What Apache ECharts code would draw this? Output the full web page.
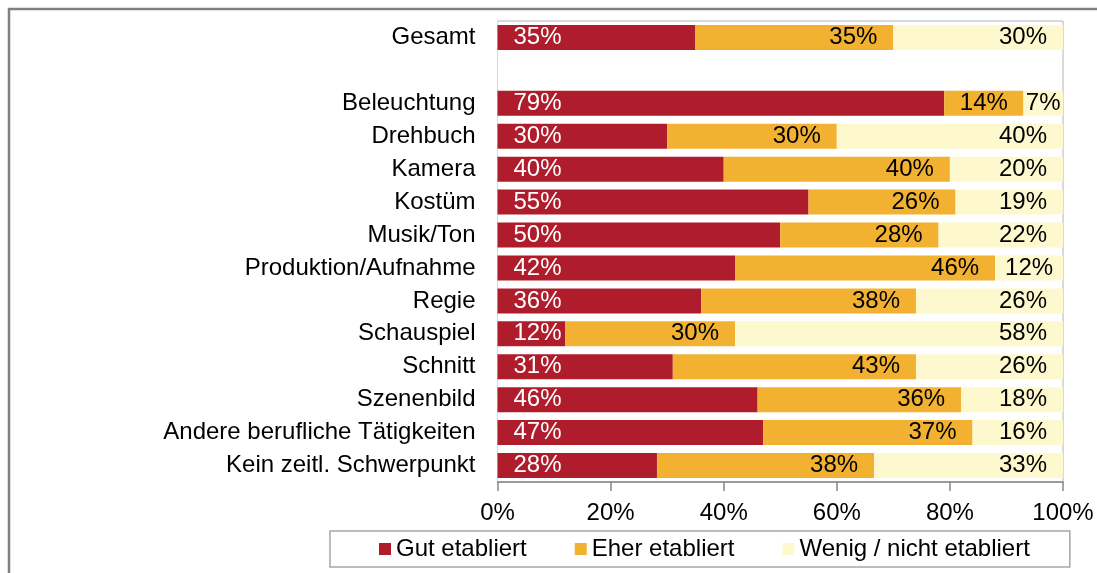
<!DOCTYPE html>
<html>
<head>
    <meta charset="utf-8"/>
    <script src="https://cdn.jsdelivr.net/npm/echarts@6/dist/echarts.min.js"></script>
    <style>
        html, body { margin: 0; padding: 0; background: #fff; }
    </style>
</head>
<body>
<div id="main" style="width: 1097px;height:573px;"></div>
<script type="text/javascript">
    // Kategorien (von oben nach unten), leere Zeile nach "Gesamt"
    var categories = [
        'Gesamt', '', 'Beleuchtung', 'Drehbuch', 'Kamera', 'Kostüm', 'Musik/Ton',
        'Produktion/Aufnahme', 'Regie', 'Schauspiel', 'Schnitt', 'Szenenbild',
        'Andere berufliche Tätigkeiten', 'Kein zeitl. Schwerpunkt'
    ];
    var seriesNames = ['Gut etabliert', 'Eher etabliert', 'Wenig / nicht etabliert'];
    var gut   = [35, '-', 79, 30, 40, 55, 50, 42, 36, 12, 31, 46, 47, 28.2];
    var eher  = [35, '-', 14, 30, 40, 26, 28, 46, 38, 30, 43, 36, 37, 38.4];
    var wenig = [30, '-', 7, 40, 20, 19, 22, 12, 26, 58, 26, 18, 16, 33.4];
    var xTicks = [0, 20, 40, 60, 80, 100];

    var colors = ['#AF1D2D', '#F2B131', '#FEF8CE'];
    var font = "'Liberation Sans', Arial, sans-serif";
    var fs = 24;

    var chartDom = document.getElementById('main');
    var myChart = echarts.init(chartDom);
    var option;

    function pct(p) { return Math.round(p.value) + '%'; }

    // kleine Segmente: Beschriftung zentriert, sonst am Ende
    function items(arr, pos) {
        return arr.map(function (v) {
            if (v === '-') return v;
            return { value: v, label: { position: (pos !== 'insideLeft' && v < 15) ? 'inside' : pos } };
        });
    }

    function makeSeries(i, arr, pos, textColor) {
        return {
            name: seriesNames[i],
            type: 'bar',
            stack: 'total',
            barCategoryGap: '24%',
            itemStyle: { color: colors[i] },
            label: {
                show: true,
                position: pos,
                distance: 16,
                formatter: pct,
                color: textColor,
                fontSize: fs,
                fontFamily: font
            },
            data: items(arr, pos)
        };
    }

    option = {
        animation: false,
        graphic: [{
            type: 'rect',
            shape: { x: 9, y: 9, width: 1300, height: 800 },
            style: { fill: 'none', stroke: '#808080', lineWidth: 2.5 },
            silent: true
        }],
        grid: {
            left: 497.5,
            right: 34,
            top: 21,
            bottom: 91,
            show: true,
            borderColor: '#b3b3b3',
            borderWidth: 1
        },
        legend: {
            data: seriesNames,
            left: 330,
            top: 531,
            icon: 'rect',
            itemWidth: 12,
            itemHeight: 12,
            itemGap: 48,
            padding: [6, 40, 6, 49],
            borderColor: '#a6a6a6',
            borderWidth: 1.5,
            selectedMode: false,
            textStyle: { fontSize: fs, color: '#000', fontFamily: font }
        },
        xAxis: {
            type: 'value',
            min: xTicks[0],
            max: xTicks[xTicks.length - 1],
            interval: 20,
            splitLine: { show: false },
            axisLine: { show: true, lineStyle: { color: '#868686', width: 1.5 } },
            axisTick: { show: true, length: 9, lineStyle: { color: '#868686', width: 1.5 } },
            axisLabel: {
                margin: 19,
                formatter: '{value}%',
                fontSize: fs,
                color: '#000',
                fontFamily: font
            }
        },
        yAxis: {
            type: 'category',
            inverse: true,
            data: categories,
            axisLine: { show: true, lineStyle: { color: '#d9d9d9' } },
            axisTick: { show: false },
            axisLabel: {
                margin: 22,
                fontSize: fs,
                color: '#000',
                fontFamily: font
            }
        },
        series: [
            makeSeries(0, gut, 'insideLeft', '#fff'),
            makeSeries(1, eher, 'insideRight', '#000'),
            makeSeries(2, wenig, 'insideRight', '#000')
        ]
    };

    option && myChart.setOption(option);
</script>
</body>
</html>
